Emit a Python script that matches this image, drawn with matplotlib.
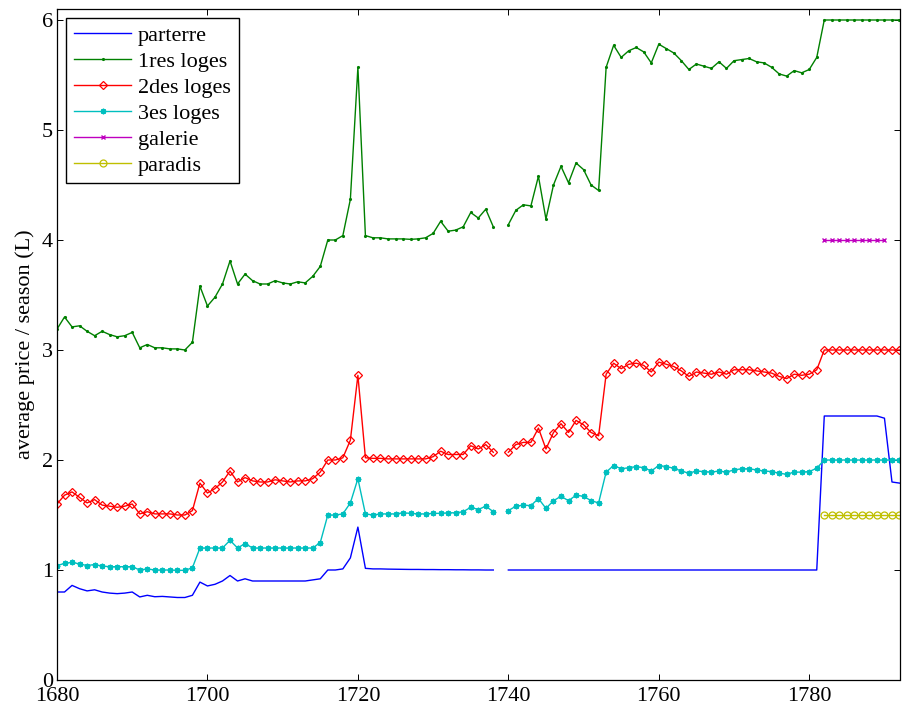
import numpy as np
import matplotlib
matplotlib.use("Agg")
import matplotlib.pyplot as plt

plt.rcParams["font.family"] = ["Liberation Serif", "DejaVu Serif"]

nan = np.nan

# seasons 1680..1792 (1739 missing)
years = np.arange(1680, 1793)
years_galerie = np.arange(1782, 1791)
years_paradis = np.arange(1782, 1793)

parterre = [
    0.80, 0.80, 0.86, 0.83, 0.81, 0.82, 0.80, 0.79, 0.785, 0.79,
    0.80, 0.755, 0.77, 0.757, 0.76, 0.755, 0.75, 0.75, 0.77, 0.89,
    0.855, 0.87, 0.90, 0.95, 0.90, 0.92, 0.90, 0.90, 0.90, 0.90,
    0.90, 0.90, 0.90, 0.90, 0.91, 0.92, 1.00, 1.00, 1.01, 1.11,
    1.39, 1.015, 1.01, 1.01, 1.008, 1.007, 1.006, 1.005, 1.005, 1.004,
    1.004, 1.003, 1.003, 1.002, 1.002, 1.001, 1.001, 1.0, 1.0, nan,
    1.0, 1.0, 1.0, 1.0, 1.0, 1.0, 1.0, 1.0, 1.0, 1.0,
    1.0, 1.0, 1.0, 1.0, 1.0, 1.0, 1.0, 1.0, 1.0, 1.0,
    1.0, 1.0, 1.0, 1.0, 1.0, 1.0, 1.0, 1.0, 1.0, 1.0,
    1.0, 1.0, 1.0, 1.0, 1.0, 1.0, 1.0, 1.0, 1.0, 1.0,
    1.0, 1.0, 2.40, 2.40, 2.40, 2.40, 2.40, 2.40, 2.40, 2.40,
    2.38, 1.80, 1.79,
]

loges1 = [
    3.19, 3.30, 3.21, 3.22, 3.17, 3.13, 3.17, 3.14, 3.12, 3.13,
    3.16, 3.02, 3.05, 3.02, 3.02, 3.01, 3.01, 3.00, 3.07, 3.58,
    3.40, 3.48, 3.60, 3.81, 3.60, 3.69, 3.63, 3.60, 3.60, 3.63,
    3.61, 3.60, 3.62, 3.61, 3.67, 3.76, 4.00, 4.00, 4.04, 4.37,
    5.57, 4.04, 4.02, 4.02, 4.01, 4.01, 4.01, 4.006, 4.01, 4.02,
    4.06, 4.17, 4.08, 4.09, 4.12, 4.25, 4.20, 4.28, 4.12, nan,
    4.14, 4.27, 4.32, 4.31, 4.58, 4.19, 4.50, 4.67, 4.52, 4.70,
    4.64, 4.50, 4.45, 5.57, 5.77, 5.66, 5.72, 5.75, 5.71, 5.61,
    5.78, 5.74, 5.70, 5.63, 5.55, 5.60, 5.58, 5.56, 5.62, 5.56,
    5.63, 5.64, 5.65, 5.62, 5.61, 5.57, 5.51, 5.49, 5.54, 5.52,
    5.55, 5.66, 6.0, 6.0, 6.0, 6.0, 6.0, 6.0, 6.0, 6.0,
    6.0, 6.0, 6.0,
]

loges2 = [
    1.60, 1.68, 1.71, 1.66, 1.61, 1.64, 1.59, 1.58, 1.57, 1.58,
    1.60, 1.51, 1.53, 1.51, 1.51, 1.51, 1.50, 1.50, 1.54, 1.79,
    1.70, 1.74, 1.80, 1.90, 1.80, 1.84, 1.81, 1.80, 1.80, 1.82,
    1.81, 1.80, 1.81, 1.81, 1.83, 1.89, 2.00, 2.00, 2.02, 2.18,
    2.77, 2.02, 2.015, 2.015, 2.01, 2.01, 2.01, 2.01, 2.01, 2.01,
    2.03, 2.08, 2.05, 2.05, 2.05, 2.13, 2.10, 2.14, 2.07, nan,
    2.07, 2.14, 2.16, 2.16, 2.29, 2.10, 2.25, 2.33, 2.25, 2.36,
    2.32, 2.25, 2.22, 2.78, 2.88, 2.83, 2.87, 2.88, 2.86, 2.80,
    2.89, 2.87, 2.85, 2.81, 2.76, 2.80, 2.79, 2.78, 2.80, 2.78,
    2.82, 2.82, 2.82, 2.81, 2.80, 2.79, 2.76, 2.74, 2.78, 2.77,
    2.78, 2.82, 3.0, 3.0, 3.0, 3.0, 3.0, 3.0, 3.0, 3.0,
    3.0, 3.0, 3.0,
]

loges3 = [
    1.04, 1.06, 1.07, 1.055, 1.04, 1.05, 1.036, 1.03, 1.03, 1.03,
    1.03, 1.00, 1.01, 1.00, 1.00, 1.00, 0.997, 0.997, 1.02, 1.20,
    1.20, 1.20, 1.20, 1.27, 1.20, 1.24, 1.20, 1.20, 1.20, 1.20,
    1.20, 1.20, 1.20, 1.20, 1.20, 1.25, 1.50, 1.50, 1.51, 1.61,
    1.83, 1.51, 1.50, 1.51, 1.51, 1.51, 1.52, 1.515, 1.51, 1.51,
    1.515, 1.515, 1.52, 1.52, 1.53, 1.57, 1.55, 1.58, 1.53, nan,
    1.54, 1.58, 1.59, 1.585, 1.65, 1.56, 1.63, 1.67, 1.63, 1.68,
    1.67, 1.63, 1.61, 1.89, 1.95, 1.92, 1.93, 1.94, 1.93, 1.90,
    1.95, 1.94, 1.925, 1.90, 1.88, 1.90, 1.895, 1.89, 1.90, 1.89,
    1.91, 1.92, 1.92, 1.91, 1.90, 1.895, 1.88, 1.87, 1.89, 1.89,
    1.895, 1.925, 2.0, 2.0, 2.0, 2.0, 2.0, 2.0, 2.0, 2.0,
    2.0, 2.0, 2.0,
]

galerie = [4.0, 4.0, 4.0, 4.0, 4.0, 4.0, 4.0, 4.0, 4.0]
paradis = [1.5, 1.5, 1.5, 1.5, 1.5, 1.5, 1.5, 1.5, 1.5, 1.5, 1.5]

labels = ["parterre", "1res loges", "2des loges", "3es loges", "galerie", "paradis"]

# matlab default colors
c_b = (0, 0, 1)
c_g = (0, 0.5, 0)
c_r = (1, 0, 0)
c_c = (0, 0.75, 0.75)
c_m = (0.75, 0, 0.75)
c_y = (0.75, 0.75, 0)

fig = plt.figure(figsize=(9.02, 7.11), dpi=100)
ax = fig.add_axes([57 / 902, 1 - 680 / 711, (899.5 - 57) / 902, (680 - 9) / 711])

lw = 1.0
ax.plot(years, parterre, color=c_b, lw=lw, label=labels[0])
ax.plot(years, loges1, color=c_g, lw=lw, marker=".", ms=2.5, label=labels[1])
ax.plot(years, loges2, color=c_r, lw=lw, marker="D", ms=4.5, mfc="none",
        mew=0.9, label=labels[2])
ax.plot(years, loges3, color=c_c, lw=lw, marker=(8, 2, 0), ms=4, mew=1.0,
        label=labels[3])
ax.plot(years_galerie, galerie, color=c_m, lw=lw, marker="x", ms=3.5, mew=1.0,
        label=labels[4])
ax.plot(years_paradis, paradis, color=c_y, lw=lw, marker="o", ms=5, mfc="none",
        mew=0.9, label=labels[5])

ax.set_xlim(1680, 1792)
ax.set_ylim(0, 6.1)
ax.set_xticks(range(1680, 1781, 20))
ax.set_yticks(range(0, 7))
ax.tick_params(direction="in", length=4.5, width=0.7, top=True, right=True,
               labelsize=16, pad=3)
ax.tick_params(axis="x", pad=5)
for s in ax.spines.values():
    s.set_linewidth(0.9)

ax.set_ylabel("average price / season (L)", fontsize=16, labelpad=5)

leg = ax.legend(loc="upper left", fontsize=16, handlelength=2.6,
                handletextpad=0.3, labelspacing=0.24, borderpad=0.35,
                borderaxespad=0.4, fancybox=False, framealpha=1)
leg.get_frame().set_edgecolor("black")
leg.get_frame().set_linewidth(1.0)

fig.savefig("out.png", dpi=100)
